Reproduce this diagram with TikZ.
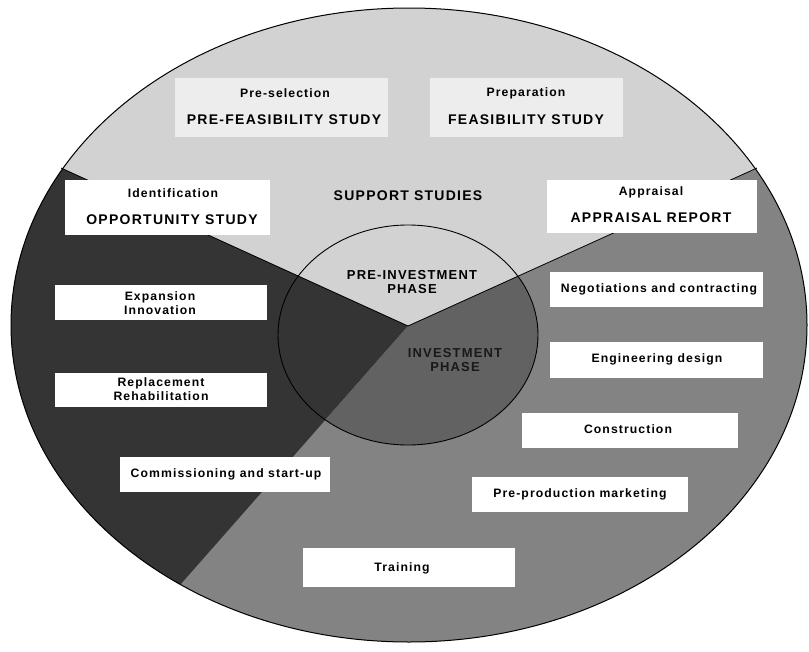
\documentclass[tikz,border=0pt]{standalone}
\usepackage{fontspec}
\setmainfont{Liberation Sans}
\newfontfamily\lblfont[LetterSpace=9]{Liberation Sans}
\definecolor{tonelight}{HTML}{D2D2D2}
\definecolor{tonemid}{HTML}{838383}
\definecolor{tonedark}{HTML}{343434}
\definecolor{toneinner}{HTML}{626262}
\begin{document}
\begin{tikzpicture}[x=1pt,y=-1pt,
  small/.style={font=\lblfont\bfseries\fontsize{12.2}{14}\selectfont, inner sep=0pt, align=center},
  caps/.style={font=\lblfont\bfseries\fontsize{14}{15}\selectfont, inner sep=0pt, align=center},
  card/.style={fill=white, draw=none, inner sep=0pt},
  softcard/.style={fill=white, fill opacity=0.6, draw=none, inner sep=0pt},
  rim/.style={draw=black, line width=1pt},
  divider/.style={draw=black, line width=0.8pt}]
\useasboundingbox (0,0) rectangle (809,651);

% key points of the three sectors
\coordinate (apex) at (408,326);
\coordinate (ul) at (61,168);
\coordinate (ur) at (757,168);
\coordinate (ll) at (180,585);

% sector fills inside the project-cycle ellipse
\begin{scope}
  \clip (409,325) ellipse [x radius=398, y radius=317];
  \fill[tonemid] (0,0) rectangle (809,651);
  \fill[tonelight] (apex) -- (-286,10) -- (-286,-100) -- (1106,-100) -- (1106,10) -- cycle;
  \fill[tonedark] (apex) -- (-286,10) -- (-286,844) -- (-48,844) -- cycle;
\end{scope}
% darker core of the investment phase
\begin{scope}
  \clip (408,335) ellipse [x radius=130, y radius=110];
  \fill[toneinner] (apex) -- (-48,844) -- (1106,844) -- (1106,10) -- cycle;
\end{scope}

% sector boundaries and outlines
\draw[divider] (apex) -- (ul);
\draw[divider] (apex) -- (ur);
\draw[rim] (409,325) ellipse [x radius=398, y radius=317];
\draw[rim, line width=0.9pt] (408,335) ellipse [x radius=130, y radius=110];

% label cards
\node[softcard, minimum width=213, minimum height=59] (presel) at (281.5,107.5) {};
\node[softcard, minimum width=193, minimum height=59] (prep) at (526.5,107.5) {};
\node[card, minimum width=205, minimum height=55] (opp) at (167.5,207.5) {};
\node[card, minimum width=210, minimum height=53] (appr) at (652,206.5) {};
\node[card, minimum width=212, minimum height=35] (expn) at (161,302.5) {};
\node[card, minimum width=212, minimum height=34] (repl) at (161,390) {};
\node[card, minimum width=210, minimum height=35] (comm) at (225,474.5) {};
\node[card, minimum width=212, minimum height=39] (train) at (409,567.5) {};
\node[card, minimum width=216, minimum height=35] (ppm) at (580,494.5) {};
\node[card, minimum width=216, minimum height=35] (cons) at (630,430.5) {};
\node[card, minimum width=213, minimum height=36] (eng) at (656.5,360) {};
\node[card, minimum width=213, minimum height=35] (neg) at (656.5,289.5) {};

% texts
\node[small] (preselA) at (285,93) {Pre-selection};
\node[caps] (preselB) at (284,120) {PRE-FEASIBILITY STUDY};
\node[small] (prepA) at (526,93) {Preparation};
\node[caps] (prepB) at (526,120) {FEASIBILITY STUDY};
\node[small] (oppA) at (173,193) {Identification};
\node[caps] (oppB) at (172,220) {OPPORTUNITY STUDY};
\node[small] (apprA) at (651,192) {Appraisal};
\node[caps] (apprB) at (651,218) {APPRAISAL REPORT};
\node[caps] (supp) at (408,196) {SUPPORT STUDIES};
\node[caps, font=\lblfont\bfseries\fontsize{13}{14}\selectfont] (preinv) at (412,282) {PRE-INVESTMENT\\PHASE};
\node[caps, text=black!90, font=\lblfont\bfseries\fontsize{13}{14}\selectfont] (inv) at (455,360) {INVESTMENT\\PHASE};
\node[small] (expnT) at (160,303) {Expansion\\Innovation};
\node[small] (replT) at (161,389.5) {Replacement\\Rehabilitation};
\node[small] (commT) at (226,474) {Commissioning and start-up};
\node[small] (trainT) at (402,568) {Training};
\node[small] (ppmT) at (580,494) {Pre-production marketing};
\node[small] (consT) at (628,429) {Construction};
\node[small] (engT) at (657,359) {Engineering design};
\node[small] (negT) at (659,289) {Negotiations and contracting};
\end{tikzpicture}
\end{document}
